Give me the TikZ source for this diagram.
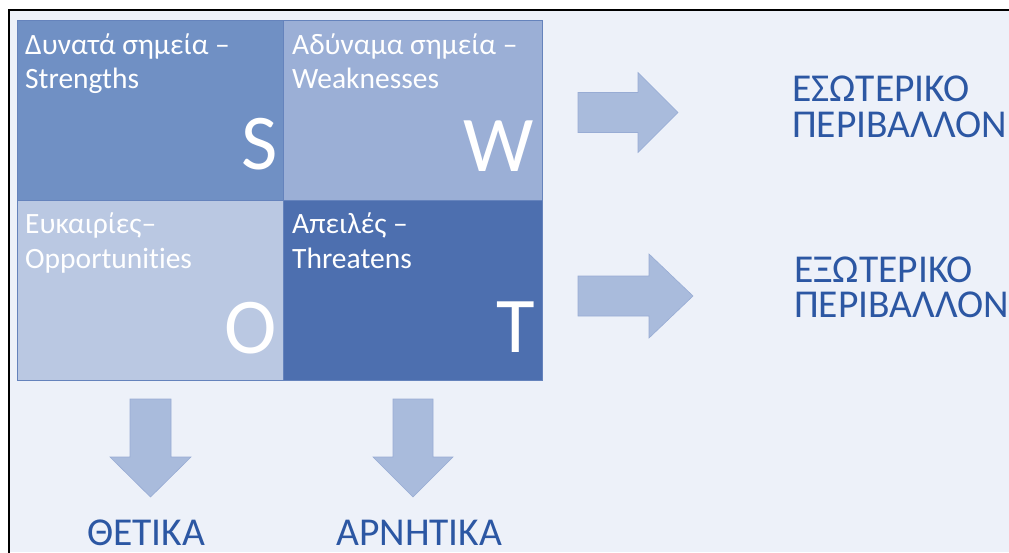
\documentclass[tikz,border=0pt]{standalone}
\usepackage{fontspec}
\setmainfont[Ligatures=NoCommon]{Carlito}
\definecolor{pagebg}{HTML}{EDF1F9}
\definecolor{cellS}{HTML}{7090C4}
\definecolor{cellW}{HTML}{9BAFD6}
\definecolor{cellO}{HTML}{BAC8E2}
\definecolor{cellT}{HTML}{4D6FAF}
\definecolor{cellline}{HTML}{6583BC}
\definecolor{arrowfill}{HTML}{A9BBDC}
\definecolor{arrowline}{HTML}{98ACD4}
\definecolor{textblue}{HTML}{2C57A3}
\begin{document}
\begin{tikzpicture}[x=1pt,y=-1pt,
  cell/.style={draw=cellline, line width=0.8pt, inner sep=0pt, anchor=north west},
  lbl/.style={anchor=base west, inner sep=0pt, text=white, font=\fontsize{29.5}{34}\selectfont},
  big/.style={anchor=base east, inner sep=0pt, text=white, font=\fontsize{79}{80}\selectfont},
  blockarrow/.style={fill=arrowfill, draw=arrowline, line width=0.6pt, line join=miter},
  side/.style={anchor=base west, inner sep=0pt, text=textblue, text height=27pt, text depth=0pt,
    font=\fontsize{39.5}{40}\selectfont}
]
\useasboundingbox (0,0) rectangle (1009,552);
% page and frame
\fill[white] (0,0) rectangle (1009,552);
\fill[pagebg] (9,10) rectangle (1009,552);
\draw[black, line width=2pt] (1012,10) -- (9,10) -- (9,556);

% SWOT quadrants
\node[cell, fill=cellS, minimum width=266pt, minimum height=180pt] (S) at (17,20) {};
\node[cell, fill=cellW, minimum width=259pt, minimum height=180pt] (W) at (283,20) {};
\node[cell, fill=cellO, minimum width=266pt, minimum height=180pt] (O) at (17,200) {};
\node[cell, fill=cellT, minimum width=259pt, minimum height=180pt] (T) at (283,200) {};

% quadrant captions
\node[lbl] (s1) at (25,54) {Δυνατά σημεία –};
\node[lbl] (s2) at (25,88) {Strengths};
\node[lbl] (w1) at (292,54) {Αδύναμα σημεία –};
\node[lbl] (w2) at (292,88) {Weaknesses};
\node[lbl] (o1) at (25,233) {Ευκαιρίες–};
\node[lbl] (o2) at (25,268) {Opportunities};
\node[lbl] (t1) at (292,233) {Απειλές –};
\node[lbl] (t2) at (292,268) {Threatens};

% big initials
\node[big] (bS) at (278,169) {S};
\node[big] (bW) at (534,171) {W};
\node[big] (bO) at (277,353) {O};
\node[big] (bT) at (535,352) {T};

% block arrows to the right
\draw[blockarrow] (578,92.5) -- (638,92.5) -- (638,72.5) -- (678,112.5) -- (638,152.5)
  -- (638,132.5) -- (578,132.5) -- cycle;
\draw[blockarrow] (578,276) -- (649,276) -- (649,254) -- (693,296) -- (649,338)
  -- (649,316) -- (578,316) -- cycle;

% block arrows downwards
\draw[blockarrow] (130,399) -- (171,399) -- (171,457) -- (191,457) -- (150.5,497)
  -- (110,457) -- (130,457) -- cycle;
\draw[blockarrow] (393,399) -- (433,399) -- (433,457) -- (453,457) -- (413,497)
  -- (373,457) -- (393,457) -- cycle;

% outcome labels
\node[side] (in1) at (792,101) {ΕΣΩΤΕΡΙΚΟ};
\node[side] (in2) at (792,137) {ΠΕΡΙΒΑΛΛΟΝ};
\node[side] (ex1) at (794,282) {ΕΞΩΤΕΡΙΚΟ};
\node[side] (ex2) at (794,317) {ΠΕΡΙΒΑΛΛΟΝ};
\node[side] (pos) at (87,545) {ΘΕΤΙΚΑ};
\node[side] (neg) at (336,545) {ΑΡΝΗΤΙΚΑ};
\end{tikzpicture}
\end{document}
